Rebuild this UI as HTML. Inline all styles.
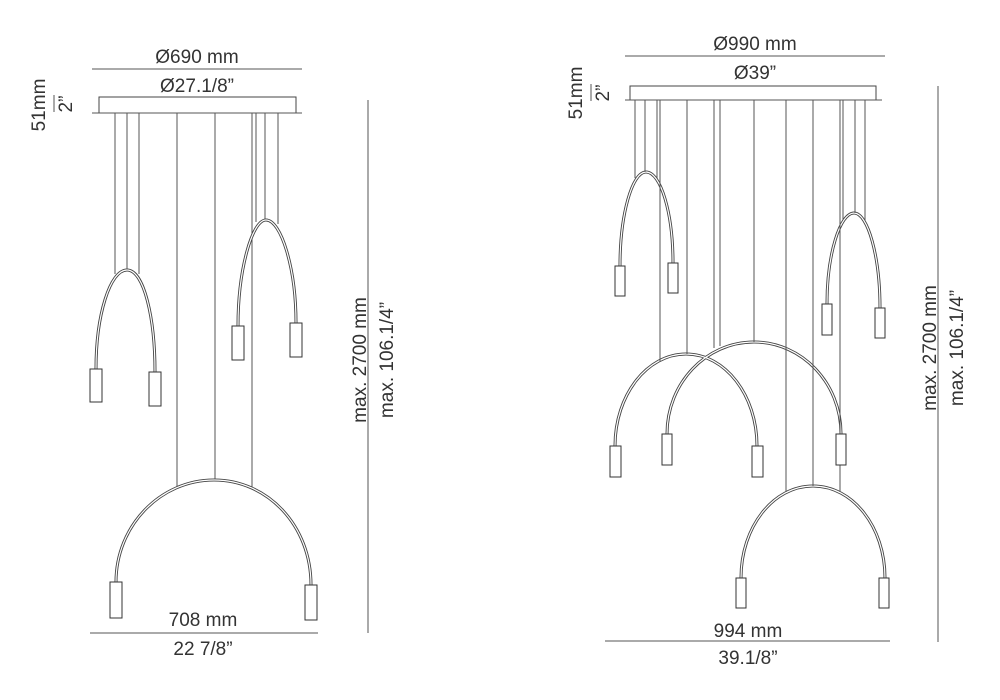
<!DOCTYPE html>
<html><head><meta charset="utf-8"><style>
html,body{margin:0;padding:0;background:#fff;width:1000px;height:700px;overflow:hidden}
svg{display:block}
text{font-family:"Liberation Sans",sans-serif;fill:#333;font-size:19px}
.tube{fill:none;stroke:#444;stroke-width:3}
.tubei{fill:none;stroke:#fff;stroke-width:1.2}
.w{stroke:#555;stroke-width:1}
.p{fill:#fff;stroke:#333;stroke-width:1}
.d{stroke:#555;stroke-width:1}
</style></head><body>
<svg width="1000" height="700" viewBox="0 0 1000 700">
<text x="197" y="63" text-anchor="middle">Ø690 mm</text>
<line class="d" x1="92" y1="69" x2="302" y2="69"/>
<text x="197" y="92" text-anchor="middle">Ø27.1/8”</text>
<rect x="99" y="97" width="197" height="16" fill="#fff" stroke="#444"/>
<line class="d" x1="92" y1="113" x2="302" y2="113"/>
<text transform="translate(45,105) rotate(-90)" text-anchor="middle" font-size="17">51mm</text>
<line class="d" x1="54" y1="95" x2="54" y2="112"/>
<text transform="translate(72,104) rotate(-90)" text-anchor="middle" font-size="16">2”</text>
<line class="w" x1="115" y1="113" x2="115" y2="274"/>
<line class="w" x1="127" y1="113" x2="127" y2="270"/>
<line class="w" x1="139" y1="113" x2="139" y2="274"/>
<line class="w" x1="177" y1="113" x2="177" y2="488"/>
<line class="w" x1="215" y1="113" x2="215" y2="480"/>
<line class="w" x1="252" y1="113" x2="252" y2="488"/>
<line class="w" x1="256" y1="113" x2="256" y2="222"/>
<line class="w" x1="265" y1="113" x2="265" y2="220"/>
<line class="w" x1="278" y1="113" x2="278" y2="224"/>
<path class="tube" d="M96 369 C96 315 110 270 127 270 C144 270 155 318 155 372"/>
<path class="tube" d="M238 326 C238 270 252 220 266 220 C281 220 296 268 296 323"/>
<path class="tube" d="M116 582 C116 526 160 480 214 480 C268 480 311 526 311 585"/>
<path class="tube" d="M620 266 C620 215 632 172 646 172 C661 172 673 214 673 263"/>
<path class="tube" d="M827 304 C827 254 840 213 854 213 C868 213 880 257 880 308"/>
<path class="tube" d="M615 446 C615 395 647 354 686 354 C725 354 757 395 757 446"/>
<path class="tube" d="M667 434 C667 383 706 342 754 342 C802 342 841 383 841 434"/>
<path class="tube" d="M741 578 C741 527 773 486 813 486 C853 486 885 527 885 578"/>
<path class="tubei" d="M96 369 C96 315 110 270 127 270 C144 270 155 318 155 372"/>
<path class="tubei" d="M238 326 C238 270 252 220 266 220 C281 220 296 268 296 323"/>
<path class="tubei" d="M116 582 C116 526 160 480 214 480 C268 480 311 526 311 585"/>
<path class="tubei" d="M620 266 C620 215 632 172 646 172 C661 172 673 214 673 263"/>
<path class="tubei" d="M827 304 C827 254 840 213 854 213 C868 213 880 257 880 308"/>
<path class="tubei" d="M615 446 C615 395 647 354 686 354 C725 354 757 395 757 446"/>
<path class="tubei" d="M667 434 C667 383 706 342 754 342 C802 342 841 383 841 434"/>
<path class="tubei" d="M741 578 C741 527 773 486 813 486 C853 486 885 527 885 578"/>
<rect class="p" x="90" y="369" width="12" height="33"/>
<rect class="p" x="149" y="372" width="12" height="34"/>
<rect class="p" x="232" y="326" width="12" height="34"/>
<rect class="p" x="290" y="323" width="12" height="34"/>
<rect class="p" x="110" y="582" width="12" height="36"/>
<rect class="p" x="305" y="585" width="12" height="35"/>
<text x="203" y="626" text-anchor="middle">708 mm</text>
<line class="d" x1="90" y1="633" x2="318" y2="633"/>
<text x="203" y="655" text-anchor="middle">22 7/8”</text>
<line class="d" x1="368" y1="100" x2="368" y2="633"/>
<text transform="translate(366,360) rotate(-90)" text-anchor="middle">max. 2700 mm</text>
<text transform="translate(393,360) rotate(-90)" text-anchor="middle">max. 106.1/4”</text>
<text x="755" y="50" text-anchor="middle">Ø990 mm</text>
<line class="d" x1="625" y1="56" x2="885" y2="56"/>
<text x="755" y="79" text-anchor="middle">Ø39”</text>
<rect x="630" y="86" width="246" height="14" fill="#fff" stroke="#444"/>
<line class="d" x1="625" y1="100" x2="882" y2="100"/>
<text transform="translate(582,93) rotate(-90)" text-anchor="middle" font-size="17">51mm</text>
<line class="d" x1="591" y1="84" x2="591" y2="101"/>
<text transform="translate(609,93) rotate(-90)" text-anchor="middle" font-size="16">2”</text>
<line class="w" x1="635" y1="100" x2="635" y2="178"/>
<line class="w" x1="645" y1="100" x2="645" y2="172"/>
<line class="w" x1="657" y1="100" x2="657" y2="178"/>
<line class="w" x1="660" y1="100" x2="660" y2="362"/>
<line class="w" x1="687" y1="100" x2="687" y2="354"/>
<line class="w" x1="714" y1="100" x2="714" y2="348"/>
<line class="w" x1="720" y1="100" x2="720" y2="346" stroke-width="1.5"/>
<line class="w" x1="754" y1="100" x2="754" y2="342"/>
<line class="w" x1="786" y1="100" x2="786" y2="492" stroke-width="1.5"/>
<line class="w" x1="813" y1="100" x2="813" y2="486"/>
<line class="w" x1="840" y1="100" x2="840" y2="492"/>
<line class="w" x1="843" y1="100" x2="843" y2="220"/>
<line class="w" x1="855" y1="100" x2="855" y2="213"/>
<line class="w" x1="865" y1="100" x2="865" y2="220"/>
<rect class="p" x="615" y="266" width="10" height="30"/>
<rect class="p" x="668" y="263" width="10" height="30"/>
<rect class="p" x="822" y="304" width="10" height="31"/>
<rect class="p" x="875" y="308" width="10" height="30"/>
<rect class="p" x="610" y="446" width="11" height="31"/>
<rect class="p" x="752" y="446" width="11" height="31"/>
<rect class="p" x="662" y="434" width="10" height="31"/>
<rect class="p" x="836" y="434" width="10" height="31"/>
<rect class="p" x="736" y="578" width="10" height="30"/>
<rect class="p" x="879" y="578" width="10" height="30"/>
<text x="748" y="637" text-anchor="middle">994 mm</text>
<line class="d" x1="605" y1="641" x2="890" y2="641"/>
<text x="748" y="664" text-anchor="middle">39.1/8”</text>
<line class="d" x1="938" y1="86" x2="938" y2="642"/>
<text transform="translate(936,348) rotate(-90)" text-anchor="middle">max. 2700 mm</text>
<text transform="translate(963,348) rotate(-90)" text-anchor="middle">max. 106.1/4”</text>
</svg>
</body></html>
